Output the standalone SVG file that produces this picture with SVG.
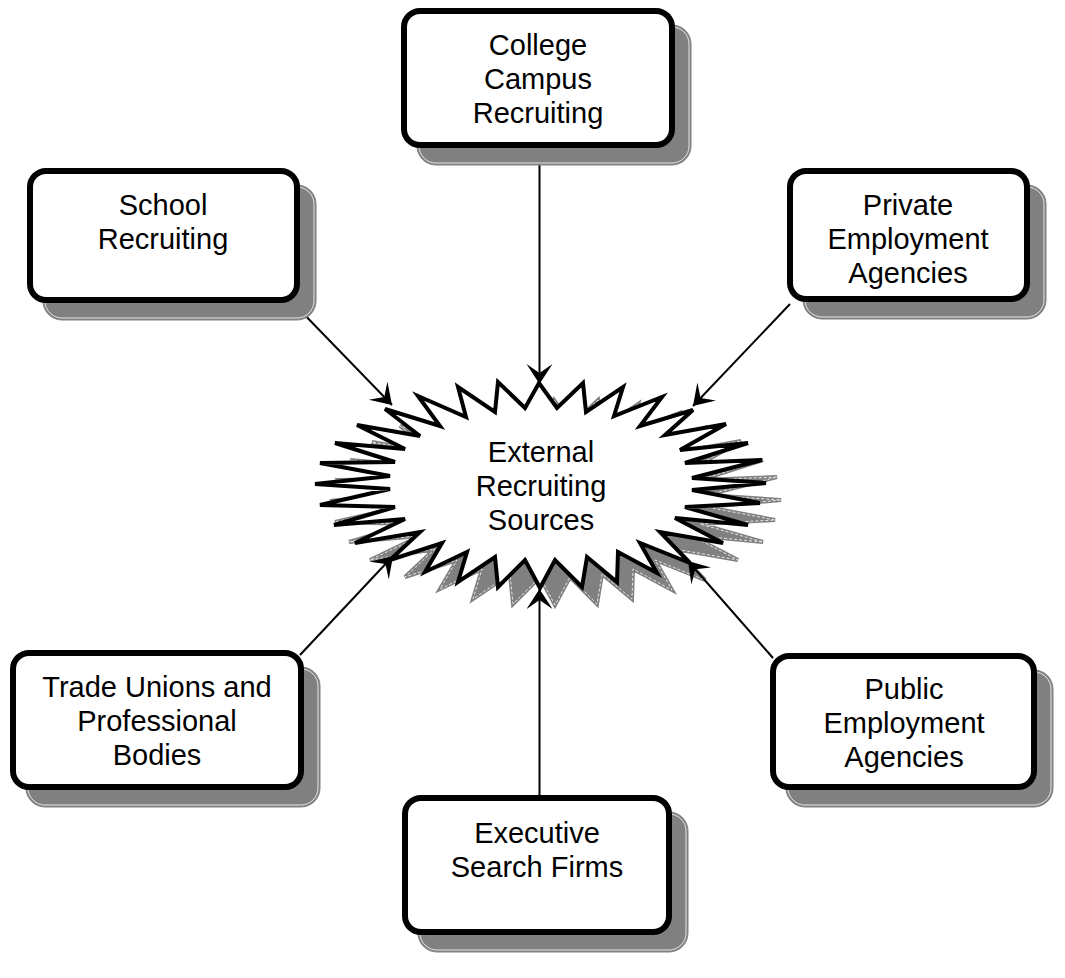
<svg xmlns="http://www.w3.org/2000/svg" xmlns:xlink="http://www.w3.org/1999/xlink" width="1065" height="978" viewBox="0 0 1065 978">
  <style>
    .box { fill: #ffffff; stroke: #000000; stroke-width: 6; }
    .shadow { fill: #808080; stroke: #808080; stroke-width: 1; }
    .shadow-edge { fill: none; stroke: #ffffff; stroke-width: 0.8; }
    .burst { fill: #ffffff; stroke: #000000; stroke-width: 4; stroke-linejoin: miter; stroke-miterlimit: 4; }
    .burst-shadow { fill: #808080; stroke: #808080; stroke-width: 4; stroke-linejoin: miter; stroke-miterlimit: 4; }
    .burst-shadow-edge { fill: none; stroke: #ffffff; stroke-width: 0.8; stroke-dasharray: 3 2; }
    .label { font-family: "Liberation Sans", Arial, sans-serif; font-size: 29px; text-anchor: middle; fill: #000000; }
    .link { fill: none; stroke: #000000; stroke-width: 2; marker-end: url(#arrow); }
  </style>
  <defs>
    <!-- concave arrowhead, tip at the path end -->
    <marker id="arrow" markerUnits="userSpaceOnUse" markerWidth="24" markerHeight="28" refX="20" refY="13" orient="auto">
      <path d="M20,13 L0,0 L9,13 L0,26 Z" fill="#000000"/>
    </marker>
    <polygon id="burst-shape" points="539,383 557,408 583,383 586,412 623,387 614,416 662,397 640,426 693,410 665,435 726,424 680,450 748,443 685,463 762,460 692,478 766,483 692,490 760,503 685,507 748,525 675,518 723,543 660,532 690,563 640,543 657,573 618,552 617,582 587,557 582,587 555,560 540,588 525,560 498,587 495,557 458,582 467,552 425,572 442,543 390,560 420,532 355,543 405,519 334,525 395,507 320,505 390,489 315,484 390,476 320,463 395,462 335,443 405,449 357,425 420,436 385,409 440,426 418,396 466,417 458,387 495,412 498,382 525,408"/>
  </defs>

  <rect width="1065" height="978" fill="#ffffff"/>

  <!-- central starburst -->
  <g id="node-external">
    <use xlink:href="#burst-shape" class="burst-shadow" transform="translate(15,17)"/>
    <use xlink:href="#burst-shape" class="burst-shadow-edge" transform="translate(15,17)"/>
    <use xlink:href="#burst-shape" class="burst"/>
    <text class="label"><tspan x="541" y="462">External</tspan><tspan x="541" y="496">Recruiting</tspan><tspan x="541" y="530">Sources</tspan></text>
  </g>

  <!-- connectors: every source points into the starburst -->
  <g id="connectors">
    <line class="link" x1="539.5" y1="148" x2="539.5" y2="384"/>
    <line class="link" x1="296" y1="306" x2="392" y2="405"/>
    <line class="link" x1="790" y1="304" x2="693" y2="406"/>
    <line class="link" x1="300" y1="655" x2="393" y2="556"/>
    <line class="link" x1="773" y1="658" x2="688" y2="561"/>
    <line class="link" x1="539.5" y1="798" x2="539.5" y2="589"/>
  </g>

  <g id="node-college">
    <rect class="shadow" x="417" y="25" width="274" height="140" rx="19"/>
    <rect class="shadow-edge" x="419" y="27" width="270" height="136" rx="17"/>
    <rect class="box" x="404" y="11" width="268" height="134" rx="16"/>
    <text class="label"><tspan x="538" y="55">College</tspan><tspan x="538" y="89">Campus</tspan><tspan x="538" y="123">Recruiting</tspan></text>
  </g>

  <g id="node-school">
    <rect class="shadow" x="43" y="185" width="273" height="135" rx="19"/>
    <rect class="shadow-edge" x="45" y="187" width="269" height="131" rx="17"/>
    <rect class="box" x="30" y="171" width="267" height="129" rx="16"/>
    <text class="label"><tspan x="163" y="215">School</tspan><tspan x="163" y="249">Recruiting</tspan></text>
  </g>

  <g id="node-private">
    <rect class="shadow" x="803" y="185" width="243" height="134" rx="19"/>
    <rect class="shadow-edge" x="805" y="187" width="239" height="130" rx="17"/>
    <rect class="box" x="790" y="171" width="237" height="128" rx="16"/>
    <text class="label"><tspan x="908" y="215">Private</tspan><tspan x="908" y="249">Employment</tspan><tspan x="908" y="283">Agencies</tspan></text>
  </g>

  <g id="node-trade">
    <rect class="shadow" x="26" y="667" width="294" height="140" rx="19"/>
    <rect class="shadow-edge" x="28" y="669" width="290" height="136" rx="17"/>
    <rect class="box" x="13" y="653" width="288" height="134" rx="16"/>
    <text class="label"><tspan x="157" y="697">Trade Unions and</tspan><tspan x="157" y="731">Professional</tspan><tspan x="157" y="765">Bodies</tspan></text>
  </g>

  <g id="node-public">
    <rect class="shadow" x="786" y="670" width="267" height="137" rx="19"/>
    <rect class="shadow-edge" x="788" y="672" width="263" height="133" rx="17"/>
    <rect class="box" x="773" y="656" width="261" height="131" rx="16"/>
    <text class="label"><tspan x="904" y="699">Public</tspan><tspan x="904" y="733">Employment</tspan><tspan x="904" y="767">Agencies</tspan></text>
  </g>

  <g id="node-executive">
    <rect class="shadow" x="418" y="812" width="270" height="140" rx="19"/>
    <rect class="shadow-edge" x="420" y="814" width="266" height="136" rx="17"/>
    <rect class="box" x="405" y="798" width="264" height="134" rx="16"/>
    <text class="label"><tspan x="537" y="843">Executive</tspan><tspan x="537" y="877">Search Firms</tspan></text>
  </g>
</svg>
